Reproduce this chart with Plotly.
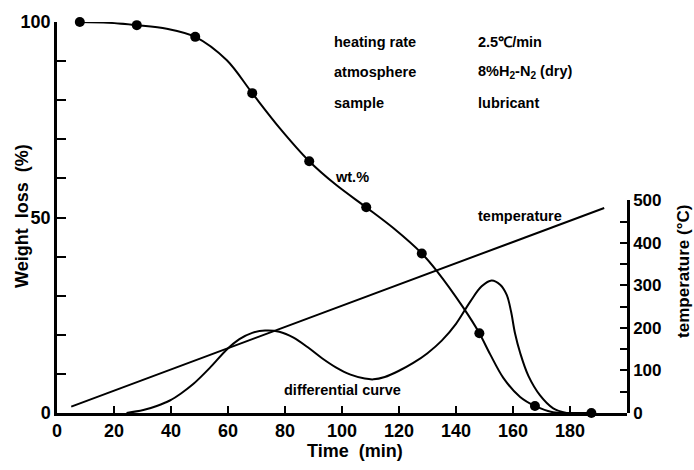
import plotly.graph_objects as go

# ---- data ----
wt_marker_t = [8, 28, 48.5, 68.5, 88.5, 108.5, 128, 148.2, 167.7, 187.5]
wt_marker_v = [100, 99.2, 96.2, 81.8, 64.4, 52.6, 40.8, 20.4, 1.8, 0]

wt_curve_t = [8, 18, 28, 38.5, 48.5, 59.6, 68.5, 78, 88.5, 98, 108.5, 118, 128,
              133.3, 142.5, 148.2, 152, 156.6, 162.5, 167.7, 174, 180, 187.5]
wt_curve_v = [100, 99.8, 99.2, 98.3, 96.2, 90.2, 81.8, 73, 64.4, 58.3, 52.6, 47.3, 40.8,
              36.3, 27, 20.4, 15, 9, 4.1, 1.8, 0.2, 0, 0]

diff_t = [24.4, 30.3, 35, 39.6, 43.5, 47.8, 53.7, 59.5, 64, 68.5, 73, 78, 83, 88, 93,
          98, 103, 108, 111, 115, 120, 125, 130, 135, 140, 145, 149, 152.5, 155.5,
          157.8, 159.3, 160.7, 162.5, 165.4, 169.5, 174.1, 178.8]
diff_v = [0, 0.75, 1.8, 3.2, 5, 7.4, 11.6, 16.2, 18.9, 20.5, 21.1, 20.8, 19.3, 16.8, 14,
          11.6, 9.8, 8.8, 8.6, 9.2, 10.8, 12.8, 15.3, 18.5, 22.8, 28.5, 32.4, 33.9, 32.8,
          30.2, 26, 20.4, 15.4, 9.5, 4.5, 1.2, 0]

temp_t = [5, 192]
temp_v = [15, 482]

x_ticks = [0, 20, 40, 60, 80, 100, 120, 140, 160, 180]
y_ticks = list(range(0, 101, 10))
y_labels = ["0", "", "", "", "", "50", "", "", "", "", "100"]
y2_ticks = list(range(0, 501, 50))
y2_labels = ["0", "", "100", "", "200", "", "300", "", "400", "", "500"]

FONT = "Liberation Sans, Arial, Helvetica, sans-serif"
BLK = "black"

fig = go.Figure()

fig.add_trace(go.Scatter(x=wt_curve_t, y=wt_curve_v, mode="lines",
                         line=dict(color=BLK, width=2, shape="spline", smoothing=0.9),
                         cliponaxis=False, showlegend=False, hoverinfo="skip"))
fig.add_trace(go.Scatter(x=wt_marker_t, y=wt_marker_v, mode="markers",
                         marker=dict(color=BLK, size=10),
                         cliponaxis=False, showlegend=False))
fig.add_trace(go.Scatter(x=diff_t, y=diff_v, mode="lines",
                         line=dict(color=BLK, width=2, shape="spline", smoothing=1.0),
                         cliponaxis=False, showlegend=False))
fig.add_trace(go.Scatter(x=temp_t, y=temp_v, mode="lines", yaxis="y2",
                         line=dict(color=BLK, width=2),
                         cliponaxis=False, showlegend=False))

axis_common = dict(showline=True, linewidth=2.5, linecolor=BLK, ticks="inside",
                   tickwidth=2, tickcolor=BLK, showgrid=False, zeroline=False,
                   tickfont=dict(family=FONT, size=18, color=BLK, weight="bold"))

fig.update_layout(
    width=694, height=470,
    margin=dict(l=57, r=67, t=14, b=57),
    paper_bgcolor="white", plot_bgcolor="rgba(0,0,0,0)",
    font=dict(family=FONT, color=BLK, weight="bold"),
    xaxis=dict(range=[0, 200], tickvals=x_ticks, ticklen=7, anchor="y", **axis_common),
    yaxis=dict(range=[0, 100], tickvals=y_ticks, ticktext=y_labels, ticklen=9,
               anchor="x", **axis_common),
    yaxis2=dict(range=[0, 500], domain=[0, 0.544], tickvals=y2_ticks, ticktext=y2_labels,
                ticklen=7, side="right", anchor="x", **axis_common),
)
fig.update_layout(yaxis2_tickfont_size=17)

def label(text, x, y, size=14.5, angle=0, xanchor="left"):
    fig.add_annotation(text=text, x=x, y=y, xref="paper", yref="paper",
                       xanchor=xanchor, yanchor="middle", showarrow=False,
                       textangle=angle,
                       font=dict(family=FONT, size=size, color=BLK, weight="bold"))

label("heating rate", 0.4825, 0.95)
label("2.5℃/min", 0.735, 0.95)
label("atmosphere", 0.4825, 0.872)
label("8%H<sub>2</sub>-N<sub>2</sub> (dry)", 0.735, 0.872)
label("sample", 0.4825, 0.792)
label("lubricant", 0.735, 0.792)
label("wt.%", 0.484, 0.604)
label("temperature", 0.735, 0.504)
label("differential curve", 0.395, 0.060)

label("Weight  loss  (%)", -0.0614, 0.504, size=18, angle=-90, xanchor="center")
label("Time  (min)", 0.523, -0.0977, size=18, xanchor="center")
label("temperature (°C)", 1.098, 0.363, size=17, angle=-90, xanchor="center")

fig.write_html("out.html")
